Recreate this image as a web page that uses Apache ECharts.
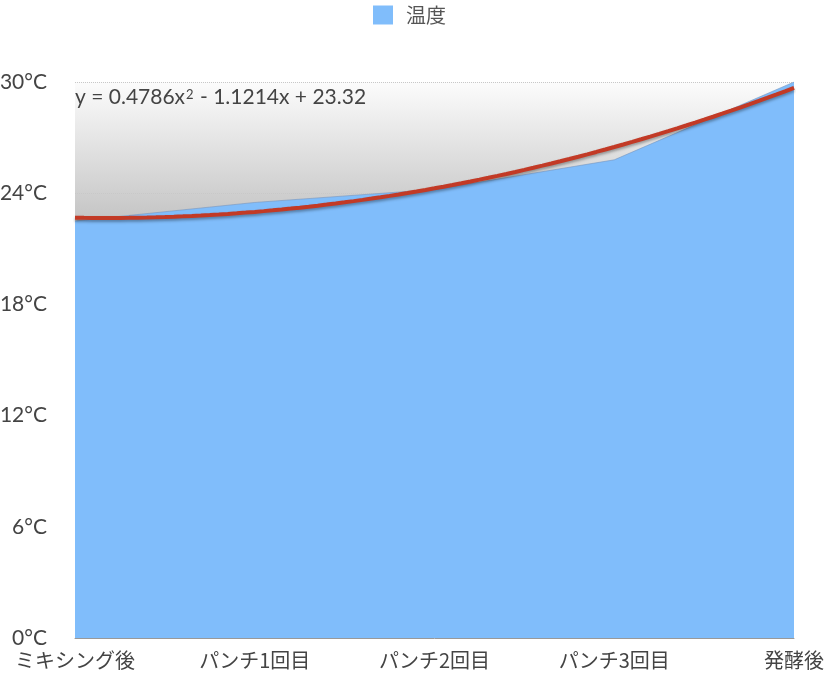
<!DOCTYPE html>
<html>
<head>
<meta charset="utf-8">
<script src="https://cdn.jsdelivr.net/npm/echarts@6/dist/echarts.min.js"></script>
<style>
html,body{margin:0;padding:0;background:#fff;}
#chart{width:825px;height:679px;}
</style>
</head>
<body>
<div id="chart"></div>
<script>
var categories = ['ミキシング後', 'パンチ1回目', 'パンチ2回目', 'パンチ3回目', '発酵後'];
var temperature = [22.5, 23.5, 24.2, 25.8, 30.0];
var yTicks = [0, 6, 12, 18, 24, 30];
var trendCoef = [0.4786, -1.1214, 23.32]; // a, b, c for y = a x^2 + b x + c (x = 1..n)
var trendLabel = 'y = 0.4786x{sup|2} - 1.1214x + 23.32';

var trendData = [];
for (var i = 0; i <= 80; i++) {
  var x = 1 + i * (categories.length - 1) / 80;
  trendData.push([x, trendCoef[0] * x * x + trendCoef[1] * x + trendCoef[2]]);
}

var fontLatin = "Lato, 'Noto Sans CJK JP', sans-serif";
var fontJP = "'Noto Sans CJK JP', sans-serif";

var chart = echarts.init(document.getElementById('chart'));
chart.setOption({
  animation: false,
  backgroundColor: '#fff',
  title: {
    text: trendLabel,
    left: 70,
    top: 82,
    textStyle: {
      fontFamily: fontLatin, fontSize: 21, fontWeight: 'normal', color: '#444',
      rich: {
        sup: { fontFamily: fontLatin, fontSize: 13, color: '#444', verticalAlign: 'top', padding: [1, 1, 0, 1] }
      }
    }
  },
  legend: {
    data: ['温度'],
    top: 0,
    left: 368,
    icon: 'rect',
    itemWidth: 20,
    itemHeight: 19,
    itemGap: 10,
    textStyle: { fontFamily: fontJP, fontSize: 20, color: '#555', padding: [0, 0, 0, 8] }
  },
  grid: {
    left: 75, right: 31, top: 82, bottom: 41,
    containLabel: false,
    outerBoundsMode: 'none',
    show: true,
    borderWidth: 0,
    backgroundColor: {
      type: 'linear', x: 0, y: 0, x2: 0, y2: 1,
      colorStops: [
        { offset: 0, color: '#fcfcfc' },
        { offset: 0.25, color: '#c4c4c4' },
        { offset: 1, color: '#b8b8b8' }
      ]
    }
  },
  xAxis: [
    {
      type: 'category',
      data: categories,
      boundaryGap: false,
      axisLine: { show: true, lineStyle: { color: '#999', width: 1 } },
      axisTick: { show: false },
      splitLine: { show: false },
      axisLabel: { fontFamily: fontJP, fontSize: 20, color: '#444', margin: 12 }
    },
    {
      type: 'value',
      min: 1,
      max: categories.length,
      show: false
    }
  ],
  yAxis: {
    type: 'value',
    min: yTicks[0],
    max: yTicks[yTicks.length - 1],
    interval: 6,
    axisLine: { show: false },
    axisTick: { show: false },
    splitLine: { show: true, lineStyle: { color: '#c8c8c8', type: 'dotted', width: 1 } },
    axisLabel: { fontFamily: fontLatin, fontSize: 21, color: '#444', margin: 28, formatter: '{value}°C' }
  },
  series: [
    {
      name: '温度',
      type: 'line',
      data: temperature,
      symbol: 'none',
      lineStyle: { width: 1, color: 'rgba(120,150,190,0.6)' },
      itemStyle: { color: '#80bdfb' },
      areaStyle: { color: '#80bdfb', opacity: 1 },
      z: 2
    },
    {
      name: 'trend',
      type: 'line',
      xAxisIndex: 1,
      data: trendData,
      symbol: 'none',
      smooth: false,
      lineStyle: {
        width: 4,
        color: '#c23a26',
        shadowColor: 'rgba(0,0,0,0.35)',
        shadowBlur: 3,
        shadowOffsetY: 2
      },
      z: 3,
      silent: true
    }
  ]
});
</script>
</body>
</html>
